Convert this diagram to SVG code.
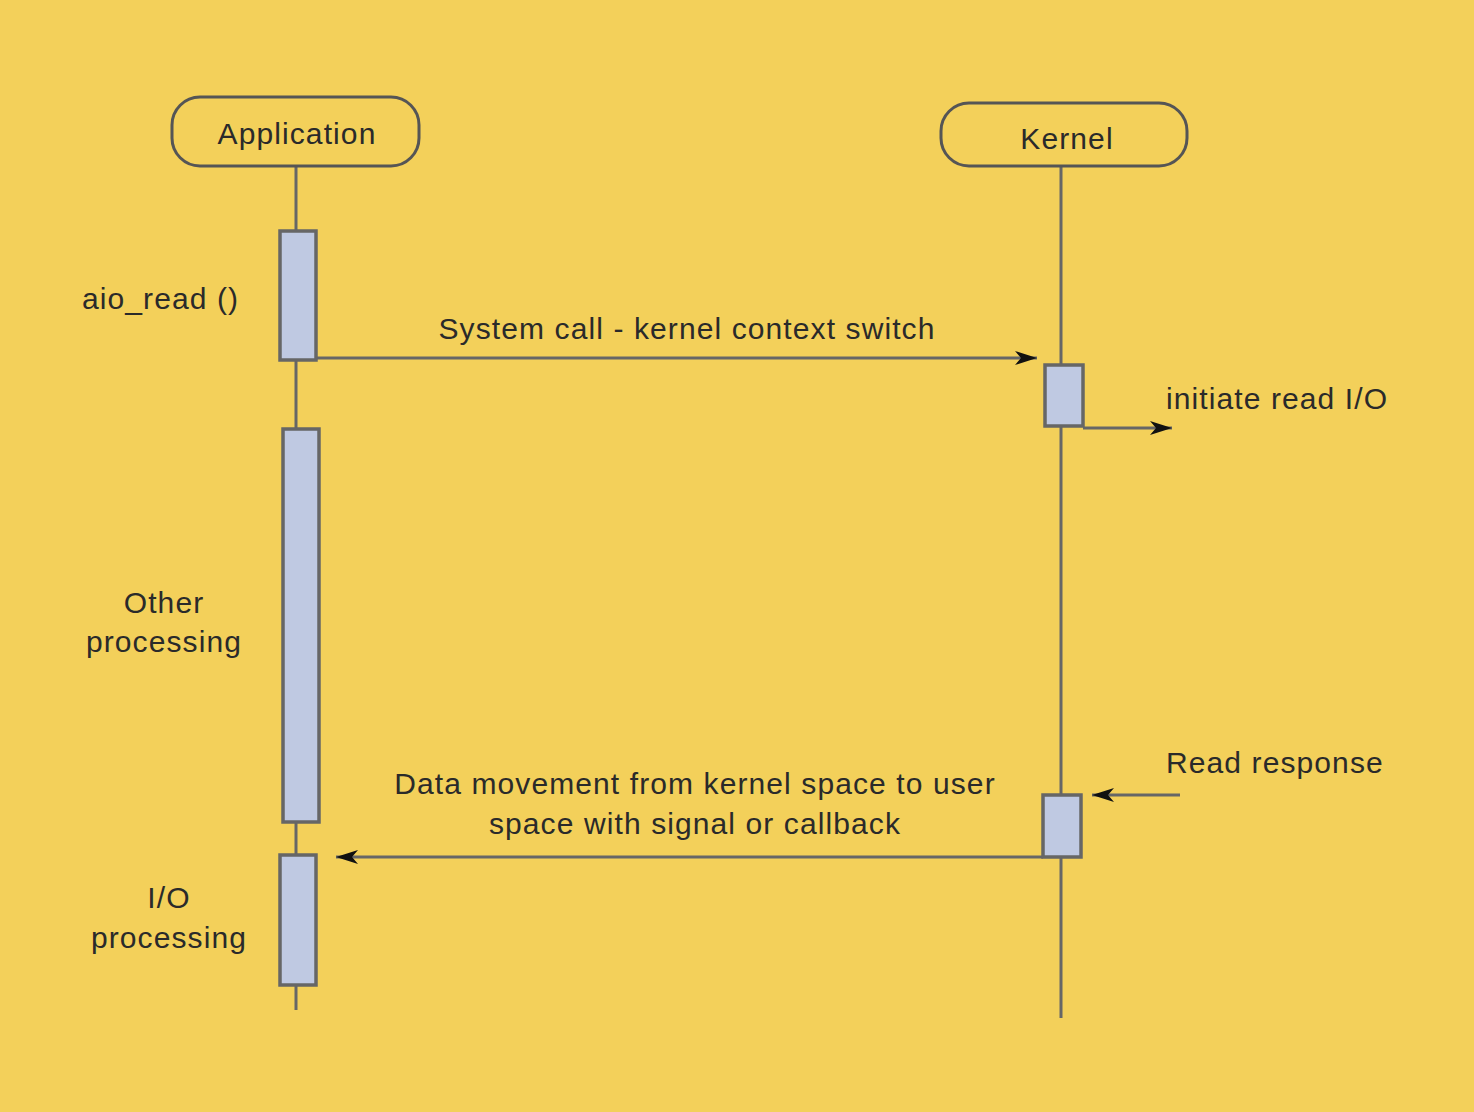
<svg xmlns="http://www.w3.org/2000/svg" width="1474" height="1112" viewBox="0 0 1474 1112">
<defs>
<style>
.bg{fill:#F3D05A}
.head{fill:none;stroke:#555;stroke-width:3}
.life{stroke:#666;stroke-width:3;fill:none}
.act{fill:#BFC9E2;stroke:#666;stroke-width:3.5}
.msg{stroke:#666;stroke-width:3;fill:none}
text{font-family:"Liberation Sans",Arial,sans-serif;font-size:30px;letter-spacing:1.1px;fill:#2a2a2a}
.c{text-anchor:middle}
</style>
<marker id="ah" viewBox="0 0 22 14" refX="22" refY="7" markerWidth="22" markerHeight="14" markerUnits="userSpaceOnUse" orient="auto">
<path d="M0,0 L22,7 L0,14 L6,7 Z" fill="#111"/>
</marker>
</defs>
<rect class="bg" x="0" y="0" width="1474" height="1112"/>
<g id="connectors">
<line class="life" x1="296" y1="166" x2="296" y2="1010"/>
<line class="life" x1="1061" y1="166" x2="1061" y2="1018"/>
<line class="msg" x1="316" y1="358" x2="1037" y2="358" marker-end="url(#ah)"/>
<line class="msg" x1="1083" y1="428" x2="1172" y2="428" marker-end="url(#ah)"/>
<line class="msg" x1="1180" y1="795" x2="1092" y2="795" marker-end="url(#ah)"/>
<line class="msg" x1="1043" y1="857" x2="336" y2="857" marker-end="url(#ah)"/>
</g>
<g id="application">
<rect class="head" x="172" y="97" width="247" height="69" rx="28"/>
<text class="c" x="297" y="144">Application</text>
</g>
<g id="kernel">
<rect class="head" x="941" y="103" width="246" height="63" rx="28"/>
<text class="c" x="1067" y="149">Kernel</text>
</g>
<g id="app-act1"><rect class="act" x="280" y="231" width="36" height="129"/></g>
<g id="app-act2"><rect class="act" x="283" y="429" width="36" height="393"/></g>
<g id="app-act3"><rect class="act" x="280" y="855" width="36" height="130"/></g>
<g id="kern-act1"><rect class="act" x="1045" y="365" width="38" height="61"/></g>
<g id="kern-act2"><rect class="act" x="1043" y="795" width="38" height="62"/></g>
<g id="labels">
<text x="82" y="309">aio_read ()</text>
<text class="c" x="687" y="339">System call - kernel context switch</text>
<text x="1166" y="409">initiate read I/O</text>
<text class="c" x="164" y="613">Other</text>
<text class="c" x="164" y="652">processing</text>
<text x="1166" y="773">Read response</text>
<text class="c" x="695" y="794">Data movement from kernel space to user</text>
<text class="c" x="695" y="834">space with signal or callback</text>
<text class="c" x="169" y="908">I/O</text>
<text class="c" x="169" y="948">processing</text>
</g>
</svg>
